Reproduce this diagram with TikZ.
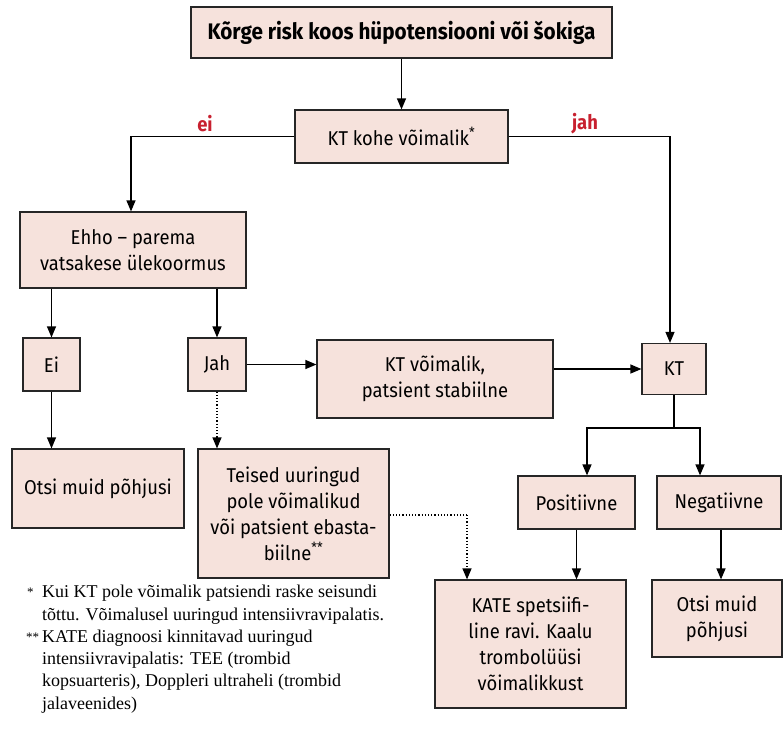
\documentclass[tikz,border=0pt]{standalone}
\usepackage{fontspec}
\setmainfont{Fira Sans}[FakeStretch=0.92]
\newfontfamily\notefont{Liberation Serif}
\usetikzlibrary{arrows.meta}
\definecolor{boxfill}{RGB}{246,226,220}
\definecolor{labelred}{RGB}{200,32,47}
\tikzset{
  x=1pt, y=-1pt,
  flowbox/.style={draw=black!85, line width=1.2pt, fill=boxfill, align=center,
    inner sep=0pt, font=\fontsize{20}{26}\selectfont},
  link/.style={line width=1.2pt, -{Triangle[length=11pt,width=9pt]}},
  dotlink/.style={link, dotted},
  branchlabel/.style={text=labelred, font=\bfseries\fontsize{20}{22}\selectfont},
  note/.style={anchor=north west, align=left, inner sep=0pt,
    font=\notefont\fontsize{18}{22.3}\selectfont},
  notemark/.style={anchor=north west, inner sep=0pt,
    font=\notefont\fontsize{13}{15}\selectfont}
}
\begin{document}
\begin{tikzpicture}
\useasboundingbox (0,0) rectangle (783,744);

% boxes
\node[flowbox, minimum width=421pt, minimum height=51pt, font=\bfseries\fontsize{22.5}{26}\selectfont] (top) at (401.5,32.5) {Kõrge risk koos hüpotensiooni või šokiga};
\node[flowbox, minimum width=213pt, minimum height=53pt] (kt0) at (401.5,136.5) {KT kohe võimalik\textsuperscript{*}};
\node[flowbox, minimum width=226pt, minimum height=76pt] (ehho) at (133,250) {Ehho – parema\\vatsakese ülekoormus};
\node[flowbox, minimum width=57pt, minimum height=53pt] (ei) at (51.5,364.5) {Ei};
\node[flowbox, minimum width=58pt, minimum height=53pt] (jah) at (217,364.5) {Jah};
\node[flowbox, minimum width=236pt, minimum height=78pt] (ktv) at (435,379) {KT võimalik,\\patsient stabiilne};
\node[flowbox, minimum width=64pt, minimum height=51pt] (kt) at (674,369) {KT};
\node[flowbox, minimum width=117pt, minimum height=53pt] (pos) at (576.5,502.5) {Positiivne};
\node[flowbox, minimum width=124pt, minimum height=53pt] (neg) at (719,502.5) {Negatiivne};
\node[flowbox, minimum width=172pt, minimum height=79pt] (otsiL) at (98,488.5) {Otsi muid põhjusi};
\node[flowbox, minimum width=191pt, minimum height=129pt] (teised) at (293.5,513.5) {Teised uuringud\\pole võimalikud\\või patsient ebasta-\\biilne\textsuperscript{**}};
\node[flowbox, minimum width=191pt, minimum height=128pt] (kate) at (530.5,644) {KATE spetsiifi-\\line ravi. Kaalu\\trombolüüsi\\võimalikkust};
\node[flowbox, minimum width=130pt, minimum height=77pt] (otsiR) at (717,618.5) {Otsi muid\\põhjusi};

% branch labels
\node[branchlabel] (lblei) at (205,124) {ei};
\node[branchlabel] (lbljah) at (585,124) {jah};

% connectors
\coordinate (split) at (674,428);
\coordinate (dotcorner) at (467,515);
\draw[link] (top) -- (kt0);
\draw[link] (kt0.west) -| ([xshift=-2pt]ehho.north);
\draw[link] (kt0.east) -| ([xshift=-4pt]kt.north);
\draw[link] (ehho.south -| ei.north) -- (ei.north);
\draw[link] (ehho.south -| jah.north) -- (jah.north);
\draw[link] (jah.east) -- (jah.east -| ktv.west);
\draw[link] (ktv.east |- kt.west) -- (kt.west);
\draw[line width=1.2pt] (kt.south) -- (split);
\draw[link] (split) -| ([xshift=10.5pt]pos.north);
\draw[link] (split) -| ([xshift=-19pt]neg.north);
\draw[link] (ei.south) -- (ei.south |- otsiL.north);
\draw[dotlink] (jah.south) -- (jah.south |- teised.north);
\draw[line width=1.2pt, dotted] (teised.east |- dotcorner) -- (dotcorner);
\draw[dotlink] (dotcorner) -- (dotcorner |- kate.north);
\draw[link] (pos.south) -- (pos.south |- kate.north);
\draw[link] ([xshift=2pt]neg.south) -- ([xshift=2pt]neg.south |- otsiR.north);

% footnotes
\node[notemark] (mark1) at (27,588) {*};
\node[note] (note1) at (42,585) {Kui KT pole võimalik patsiendi raske seisundi\\tõttu. Võimalusel uuringud intensiivravipalatis.};
\node[notemark] (mark2) at (26,632.6) {**};
\node[note] (note2) at (42,629.6) {KATE diagnoosi kinnitavad uuringud\\intensiivravipalatis: TEE (trombid\\kopsuarteris), Doppleri ultraheli (trombid\\jalaveenides)};
\end{tikzpicture}
\end{document}
